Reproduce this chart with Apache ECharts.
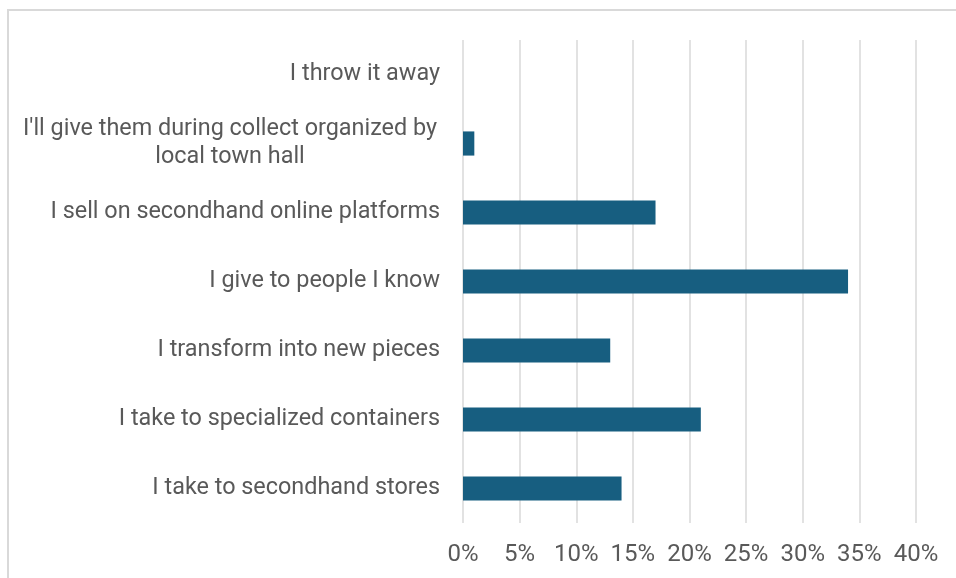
<!DOCTYPE html>
<html>
<head>
<meta charset="utf-8">
<script src="https://cdn.jsdelivr.net/npm/echarts@6/dist/echarts.min.js"></script>
<style>
  html, body { margin: 0; padding: 0; background: #ffffff; }
  #chart { width: 956px; height: 578px; }
</style>
</head>
<body>
<div id="chart"></div>
<script>
// Disposal of unwanted clothes — share of respondents per answer (top to bottom)
const categories = [
  "I throw it away",
  "I'll give them during collect organized by\nlocal town hall",
  "I sell on secondhand online platforms",
  "I give to people I know",
  "I transform into new pieces",
  "I take to specialized containers",
  "I take to secondhand stores"
];
const shares = [0, 1, 17, 34, 13, 21, 14];
const axisTicks = [0, 5, 10, 15, 20, 25, 30, 35, 40];

const chart = echarts.init(document.getElementById('chart'));
const textColor = '#595959';
const fontFamily = 'Roboto, "Noto Sans", sans-serif';
const labelMargin = 23;

// The two-line answer is centred line by line, so it gets its own text style.
const yData = categories.map(name => name.indexOf('\n') >= 0
  ? { value: name, textStyle: { align: 'center', padding: [0, 420, 0, 0] } }
  : name);

chart.setOption({
  animation: false,
  graphic: [{
    type: 'rect',
    shape: { x: 8, y: 10, width: 1000, height: 700 },
    style: { fill: 'none', stroke: '#d9d9d9', lineWidth: 2 },
    silent: true
  }],
  grid: { left: 463, right: 40, top: 40, bottom: 55, containLabel: false },
  xAxis: {
    type: 'value',
    min: axisTicks[0],
    max: axisTicks[axisTicks.length - 1],
    interval: 5,
    axisLine: { show: false },
    axisTick: { show: false },
    splitLine: { show: true, lineStyle: { color: '#d9d9d9', width: 1.5 } },
    axisLabel: {
      color: textColor, fontSize: 24, fontFamily: fontFamily, margin: 20,
      formatter: v => v + '%'
    }
  },
  yAxis: {
    type: 'category',
    data: yData,
    inverse: true,
    axisLine: { show: false },
    axisTick: { show: false },
    axisLabel: {
      color: textColor, fontSize: 23.4, fontFamily: fontFamily, margin: labelMargin,
      align: 'right', lineHeight: 28
    }
  },
  series: [{
    type: 'bar',
    data: shares,
    barWidth: '35%',
    itemStyle: { color: '#175e80' }
  }]
});
</script>
</body>
</html>
